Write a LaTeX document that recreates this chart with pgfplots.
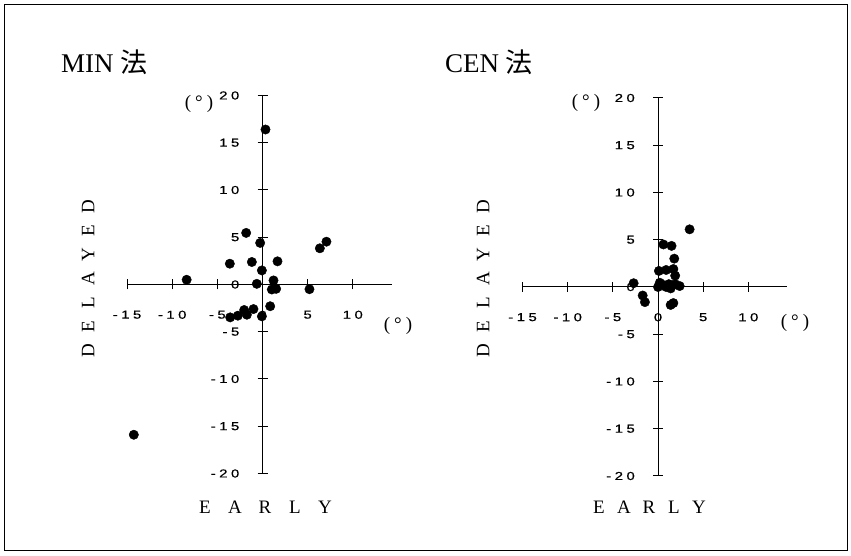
\documentclass[border=0pt]{standalone}
\usepackage{fontspec}
\setmainfont{Liberation Serif}
\newfontfamily\cjk{Noto Sans CJK JP}
\newfontfamily\tickfontfam[LetterSpace=30,FakeStretch=1.3,FakeBold=0.6]{Liberation Sans}
\newcommand\tickfont{\tickfontfam\fontsize{11.5bp}{13bp}\selectfont}
\usepackage{pgfplots}
\usepackage{pgfplotstable}
\pgfplotsset{compat=1.18}

\pgfplotstableread{
x y
-14.25 -15.9
-8.4 0.5
-3.62 2.2
-1.81 5.46
-0.26 4.4
-1.18 2.38
1.66 2.45
-0.07 1.49
-0.63 0.07
1.22 0.43
1.03 -0.53
1.51 -0.46
0.85 -2.3
-2.03 -2.7
-1.0 -2.6
-3.58 -3.48
-2.73 -3.3
-1.73 -3.2
-0.07 -3.37
5.2 -0.5
6.35 3.83
7.08 4.53
0.33 16.4
}\minData

\pgfplotstableread{
x y
3.5 6.1
0.6 4.5
1.5 4.35
1.8 3.0
0.1 1.7
0.9 1.8
1.7 1.9
1.9 1.2
0.0 0.0
0.2 0.45
0.6 0.2
1.2 0.3
1.4 -0.15
2.4 0.1
0.9 0.0
1.9 0.3
-2.7 0.4
-1.7 -0.9
-1.45 -1.6
1.4 -1.9
1.7 -1.7
}\cenData

\pgfplotsset{myax/.style={
  anchor=origin, x=9.03bp, y=9.45bp,
  xmin=-15, xmax=14.3, ymin=-20, ymax=20,
  axis lines=middle, axis line style={-, line width=1bp, black},
  clip=false,
  xtick={-15,-10,-5,0,5,10}, xticklabels={-15,-10,-5,0,5,10},
  ytick={-20,-15,...,20}, yticklabels={-20,-15,-10,-5,0,5,10,15,20},
  hide obscured x ticks=false, hide obscured y ticks=false,
  tick align=center, major tick length=10bp,
  tick style={line width=1bp, black},
  xticklabel style={font=\tickfont, anchor=north, inner sep=0pt, yshift=-21bp},
  yticklabel style={font=\tickfont, anchor=east, inner sep=0pt, xshift=-18bp},
}}

\newcommand\spaced[2]{\makebox[#1]{#2}}
\newcommand\lab{\fontsize{19bp}{21bp}\selectfont}
\newcommand\ttl{\fontsize{27bp}{30bp}\selectfont}
\newcommand\degunit{\fontsize{19bp}{21bp}\selectfont(\hspace{4bp}°\hspace{4bp})}

\begin{document}
\begin{tikzpicture}[x=1bp,y=1bp]
\path[use as bounding box] (0,0) rectangle (851,556);
\draw[line width=1bp] (4.5,5) rectangle (847.5,551.5);

\begin{axis}[myax, at={(262.5bp,271.5bp)}]
\addplot[only marks, mark=*, mark size=4.7bp, black] table[x=x,y=y] {\minData};
\end{axis}

\begin{axis}[myax, at={(658bp,269bp)}]
\addplot[only marks, mark=*, mark size=4.7bp, black] table[x=x,y=y] {\cenData};
\end{axis}

\node[anchor=base west, inner sep=0pt] at (61,483) {\ttl MIN {\cjk 法}};
\node[anchor=base west, inner sep=0pt] at (445,483) {\ttl CEN {\cjk 法}};

\node at (199,452) {\degunit};
\node at (586,453) {\degunit};
\node at (398,230) {\degunit};
\node at (795,233) {\degunit};

\node[inner sep=0pt] at (265,49) {\lab\spaced{30bp}{E}\spaced{30bp}{A}\spaced{30bp}{R}\spaced{30bp}{L}\spaced{30bp}{Y}};
\node[inner sep=0pt] at (649,49) {\lab\spaced{25bp}{E}\spaced{25bp}{A}\spaced{25bp}{R}\spaced{25bp}{L}\spaced{25bp}{Y}};

\node[inner sep=0pt, rotate=90] at (88,277) {\lab\spaced{24bp}{D}\spaced{24bp}{E}\spaced{24bp}{L}\spaced{24bp}{A}\spaced{24bp}{Y}\spaced{24bp}{E}\spaced{24bp}{D}};
\node[inner sep=0pt, rotate=90] at (483,277) {\lab\spaced{24bp}{D}\spaced{24bp}{E}\spaced{24bp}{L}\spaced{24bp}{A}\spaced{24bp}{Y}\spaced{24bp}{E}\spaced{24bp}{D}};
\end{tikzpicture}
\end{document}
